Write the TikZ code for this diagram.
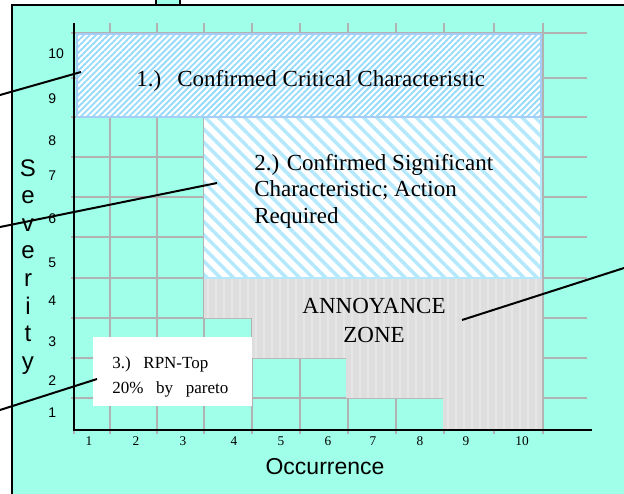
\documentclass[tikz,border=0pt]{standalone}
\usepackage{fontspec}
\setmainfont{Liberation Serif}
\setsansfont{Liberation Sans}
\usetikzlibrary{positioning}
\usetikzlibrary{patterns.meta}

\definecolor{chartbg}{RGB}{160,255,232}
\definecolor{critblue}{RGB}{150,218,252}
\definecolor{critedge}{RGB}{165,205,245}
\definecolor{signblue}{RGB}{180,232,252}
\definecolor{gridgray}{RGB}{178,178,178}
\definecolor{zonegray}{RGB}{222,222,222}

\begin{document}
\begin{tikzpicture}[x=0.75pt, y=-0.75pt,
    gridline/.style={gridgray, line width=1.5pt},
    axis/.style={black, line width=2pt},
    callout/.style={black, line width=1.5pt},
    zonetext/.style={inner sep=0, font=\fontsize{17.25}{21}\selectfont},
    xnum/.style={inner sep=0, font=\fontsize{10}{12}\selectfont},
    ynum/.style={inner sep=0, anchor=west, font=\sffamily\fontsize{10.5}{13}\selectfont},
    axislabel/.style={inner sep=0, font=\sffamily\fontsize{17.25}{21}\selectfont}]

    \useasboundingbox (0,0) rectangle (624,493);
    \clip (0,0) rectangle (624,493);

    % panel with its tab
    \draw[fill=chartbg, line width=1.5pt] (156,-10) rectangle (180,5);
    \draw[fill=chartbg, line width=1.8pt] (12,5) rectangle (660,520);

    % grid
    \foreach \x in {74,110,157,204,252,300,348,396,444,494,543}
        \draw[gridline] (\x,23) -- (\x,434);
    \foreach \y in {33,78,117,157,197,237,278,318,358,398}
        \draw[gridline] (71,\y) -- (587,\y);

    % zones
    \fill[white] (77,34) rectangle (541,117);
    \fill[pattern={Lines[angle=45, distance=3.2pt, line width=1.4pt]}, pattern color=critblue]
        (77,34) rectangle (541,117);
    \draw[critedge, line width=1.5pt] (77,34) rectangle (541,117);

    \fill[white] (204,118) rectangle (541,278);
    \fill[pattern={Lines[angle=-45, distance=7pt, line width=2.6pt]}, pattern color=signblue]
        (204,118) rectangle (541,278);
    \draw[signblue, line width=1pt] (204,278) -- (541,278) -- (541,118);

    \path[fill=zonegray, postaction={pattern={Lines[angle=90, distance=6pt, line width=0.8pt]}, pattern color=zonegray!75!white}]
        (204,279) -- (204,318) -- (252,318) -- (252,358) -- (346,358) -- (346,398)
        -- (443,398) -- (443,429) -- (542,429) -- (542,279) -- cycle;

    \fill[white] (93,337) rectangle (252,406);

    % axes
    \draw[axis] (74,23) -- (74,430) -- (592,430);

    % texts
    \node[zonetext, anchor=base west] (crit) at (136,86) {1.)\hspace{0.7em}Confirmed Critical Characteristic};
    \node[zonetext, anchor=north west, align=left, font=\fontsize{17.25}{19.9}\selectfont] (sign) at (254,154)
        {2.) Confirmed Significant\\Characteristic; Action\\Required};
    \node[zonetext, anchor=north, align=center, font=\fontsize{17.25}{21.75}\selectfont] (annoy) at (374,298)
        {ANNOYANCE\\ZONE};
    \node[inner sep=0, anchor=north west, align=left, font=\fontsize{12.75}{18.75}\selectfont] (rpn) at (112,356)
        {3.)\hspace{.75em}RPN-Top\\20\%\hspace{.75em}by\hspace{.75em}pareto};

    \foreach \n/\x in {1/89,2/136,3/183,4/234,5/281,6/328,7/373,8/420,9/466,10/522}
        \node[xnum] (occ\n) at (\x,441) {\n};
    \foreach \n/\y in {1/413,2/381,3/342,4/301,5/263,6/219,7/176,8/141,9/99,10/54}
        \node[ynum] (sev\n) at (48,\y) {\n};

    \node[axislabel, anchor=base] (occ) at (325,474) {Occurrence};
    \node[axislabel, anchor=north, align=center, font=\sffamily\fontsize{18}{20.7}\selectfont] (sev) at (28,159)
        {S\\e\\v\\e\\r\\i\\t\\y};

    % callout lines
    \coordinate (critend) at (0,95);
    \coordinate (crittip) at (81,72);
    \coordinate (signend) at (0,227);
    \coordinate (signtip) at (217,183);
    \coordinate (rpnend) at (0,410);
    \coordinate (rpntip) at (97,379);
    \coordinate (annoytip) at (462,320);
    \coordinate (annoyend) at (624,268);
    \draw[callout] (critend) -- (crittip);
    \draw[callout] (signend) -- (signtip);
    \draw[callout] (rpnend) -- (rpntip);
    \draw[callout] (annoytip) -- (annoyend);
\end{tikzpicture}
\end{document}
